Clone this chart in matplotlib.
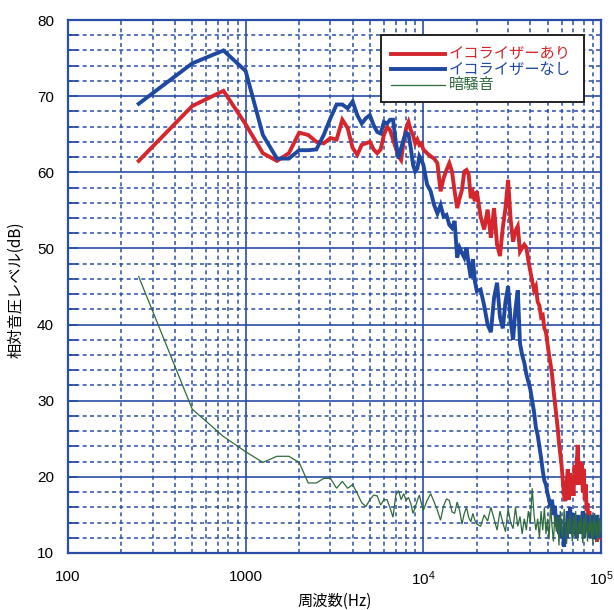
import numpy as np
import matplotlib
matplotlib.use("Agg")
import matplotlib.pyplot as plt
from matplotlib.lines import Line2D
from matplotlib.patches import Rectangle
from matplotlib.ticker import LogLocator, MultipleLocator, FixedLocator, NullFormatter

plt.rcParams['font.family'] = ['Liberation Sans', 'Noto Sans CJK JP', 'DejaVu Sans']
plt.rcParams['mathtext.fontset'] = 'custom'
plt.rcParams['mathtext.rm'] = 'Liberation Sans'

# Frequency grid (Hz): 250 Hz steps to 10 kHz, 500 Hz to 20 kHz, 1 kHz to 100 kHz
freq = np.concatenate([np.arange(250, 10001, 250),
                       np.arange(10500, 20001, 500),
                       np.arange(21000, 100001, 1000)])

eq_on = [
    # 250 .. 10000 Hz
    61.5, 68.7, 70.7, 66.3, 62.5, 61.5, 62.5, 65.2, 64.9, 64.0,
    63.8, 64.5, 64.3, 66.9, 65.8, 63.2, 62.3, 63.6, 63.8, 64.0,
    63.0, 62.5, 63.0, 64.9, 66.0, 65.5, 64.3, 63.2, 62.1, 61.6,
    64.0, 65.8, 66.6, 65.5, 64.9, 63.8, 64.3, 63.6, 63.8, 63.0,
    # 10.5k .. 20k
    62.5, 62.1, 61.8, 61.2, 57.5, 59.2, 60.3, 61.2, 60.1, 57.5,
    55.3, 56.6, 57.7, 60.1, 60.3, 59.7, 56.6, 57.3, 56.2, 57.5,
    # 21k .. 100k
    54.2, 52.5, 55.1, 51.4, 55.3, 50.5, 49.0, 52.7, 55.3, 59.0,
    53.8, 50.9, 52.3, 52.9, 49.6, 50.1, 50.5, 50.1, 48.4, 47.0,
    45.7, 44.5, 45.0, 43.0, 42.5, 41.0, 41.2, 39.5, 39.0, 37.5,
    36.0, 34.8, 33.5, 31.5, 29.8, 28.0, 26.5, 24.5, 23.0, 21.5,
    19.5, 17.5, 16.8, 19.0, 21.0, 17.0, 20.5, 18.0, 20.0, 17.5,
    21.5, 19.0, 22.0, 24.2, 19.0, 22.0, 20.5, 21.8, 18.0, 21.0,
    17.0, 19.0, 15.5, 16.5, 14.0, 15.5, 12.5, 14.0, 12.0, 15.0,
    13.0, 14.5, 12.0, 13.5, 11.5, 14.0, 12.5, 13.0, 11.8, 12.5,
]

eq_off = [
    69.0, 74.3, 76.0, 73.3, 64.9, 61.8, 61.8, 62.9, 62.9, 63.0,
    64.9, 67.1, 68.9, 68.9, 68.4, 69.3, 67.5, 66.4, 67.1, 67.5,
    66.2, 65.3, 65.1, 66.6, 66.4, 66.9, 66.9, 64.0, 61.8, 63.2,
    64.3, 65.2, 65.0, 63.2, 61.0, 60.1, 60.5, 62.1, 61.6, 61.0,
    58.4, 57.5, 55.7, 54.6, 55.7, 54.2, 54.4, 53.1, 52.7, 53.6,
    48.8, 50.1, 49.4, 48.8, 50.1, 47.9, 46.1, 48.6, 45.7, 44.4,
    44.6, 42.5, 40.0, 39.0, 43.5, 45.5, 41.0, 39.5, 43.0, 45.0,
    40.5, 38.0, 42.0, 44.5, 37.5, 36.0, 35.0, 33.5, 32.5, 31.5,
    30.0, 28.5, 26.5, 25.5, 24.0, 22.5, 20.8, 19.5, 19.0, 17.8,
    17.0, 16.0, 17.0, 15.0, 16.2, 13.5, 15.0, 12.5, 14.5, 12.0,
    13.0, 10.8, 14.0, 12.0, 15.5, 13.0, 16.0, 12.5, 14.5, 15.2,
    12.5, 14.0, 12.0, 15.0, 13.0, 14.5, 12.5, 13.8, 15.5, 12.0,
    14.0, 12.8, 15.0, 13.0, 14.7, 12.0, 14.5, 13.0, 15.0, 12.5,
    14.0, 11.8, 14.5, 12.5, 15.0, 13.0, 14.0, 12.0, 14.5, 12.6,
]

dark_noise = [
    46.3, 28.9, 25.3, 23.3, 21.9, 22.7, 22.7, 21.9, 19.2, 19.2,
    19.8, 19.8, 18.5, 19.4, 18.5, 19.0, 17.8, 16.6, 16.1, 17.0,
    17.6, 17.5, 16.3, 17.0, 17.0, 15.9, 14.7, 17.6, 18.2, 17.0,
    17.8, 16.9, 17.3, 16.5, 15.2, 16.0, 16.9, 17.6, 16.5, 15.6,
    16.9, 17.8, 16.7, 15.6, 14.3, 16.2, 17.1, 16.9, 15.4, 15.2,
    16.7, 15.6, 13.8, 15.2, 16.0, 14.7, 14.1, 15.2, 14.3, 13.8,
    13.5, 15.0, 14.2, 16.0, 14.5, 13.0, 15.5, 14.0, 12.8, 15.8,
    14.0, 13.2, 16.0, 13.5, 14.8, 12.5, 14.5, 13.0, 15.5, 14.0,
    18.5, 15.0, 13.0, 14.5, 12.0, 15.5, 13.0, 16.0, 12.5, 14.5,
    11.8, 16.2, 13.5, 11.5, 15.0, 12.8, 14.8, 11.0, 15.5, 13.0,
    12.0, 15.8, 13.5, 11.2, 14.5, 12.5, 15.2, 13.0, 11.5, 14.8,
    12.2, 15.5, 13.0, 11.6, 14.2, 12.5, 15.0, 13.2, 11.3, 14.6,
    12.0, 15.3, 13.0, 11.5, 14.0, 12.7, 15.0, 12.0, 14.2, 11.2,
    13.8, 15.2, 12.3, 14.0, 11.5, 13.5, 15.0, 12.0, 14.3, 12.8,
]

series_labels = ['イコライザーあり', 'イコライザーなし', '暗騒音']
series_colors = ['#d4262c', '#1f48a0', '#2f6a3c']
series_widths = [2.8, 2.8, 0.9]

x_ticks = [100, 1000, 1e4, 1e5]
x_ticklabels = ['100', '1000', r'$\mathregular{10^{4}}$', r'$\mathregular{10^{5}}$']
y_ticks = [10, 20, 30, 40, 50, 60, 70, 80]

grid_color = '#2a4ea6'
cjk = ['Noto Sans CJK JP', 'DejaVu Sans']

W, H = 614, 610
fig = plt.figure(figsize=(W / 100, H / 100), dpi=100)
ax = fig.add_axes([68 / W, 1 - 553 / H, 533 / W, 533 / H])

for values, lab, c, w, z in zip([eq_on, eq_off, dark_noise], series_labels,
                                series_colors, series_widths, [3, 3, 4]):
    ax.plot(freq, values, color=c, lw=w, label=lab, zorder=z,
            solid_joinstyle='miter')

ax.set_xscale('log')
ax.set_xlim(100, 1e5)
ax.set_ylim(10, 80)

ax.xaxis.set_major_locator(FixedLocator(x_ticks))
ax.set_xticklabels(x_ticklabels)
ax.xaxis.set_minor_locator(LogLocator(base=10, subs=np.arange(2, 10)))
ax.xaxis.set_minor_formatter(NullFormatter())
ax.yaxis.set_major_locator(FixedLocator(y_ticks))
ax.yaxis.set_minor_locator(MultipleLocator(2))

ax.grid(which='major', color=grid_color, lw=1.2, ls='-', zorder=1)
ax.grid(which='minor', color=grid_color, lw=1.1, ls=(0, (2.6, 2.2)), zorder=1)
ax.set_axisbelow(True)

for s in ax.spines.values():
    s.set_color(grid_color)
    s.set_linewidth(1.6)

ax.tick_params(axis='y', which='both', direction='in', length=7, width=1.3,
               color=grid_color, labelsize=11, pad=10)
ax.tick_params(axis='x', which='both', direction='in', length=0,
               labelsize=11, pad=12)

fig.text(334.5 / W, 1 - 601 / H, '周波数(Hz)', family=cjk, fontsize=11,
         ha='center', va='center')
fig.text(16 / W, 1 - 290 / H, '相対音圧レベル(dB)', family=cjk, fontsize=11,
         ha='center', va='center', rotation=90)

# Legend box drawn in figure pixel coordinates
def fx(px):
    return px / W


def fy(py):
    return 1 - py / H


fig.patches.append(Rectangle((fx(381), fy(102)), fx(584) - fx(381), fy(35) - fy(102),
                             transform=fig.transFigure, facecolor='white',
                             edgecolor='#222222', lw=1.4, zorder=10))
for i, (lab, c, w) in enumerate(zip(series_labels, series_colors, series_widths)):
    yy = 53.5 + 15.5 * i
    fig.add_artist(Line2D([fx(391), fx(445)], [fy(yy), fy(yy)], color=c, lw=w,
                          transform=fig.transFigure, zorder=11))
    fig.text(fx(449), fy(yy), lab, family=cjk, fontsize=11, color=c,
             ha='left', va='center', zorder=11)

fig.savefig('out.png', dpi=100)
